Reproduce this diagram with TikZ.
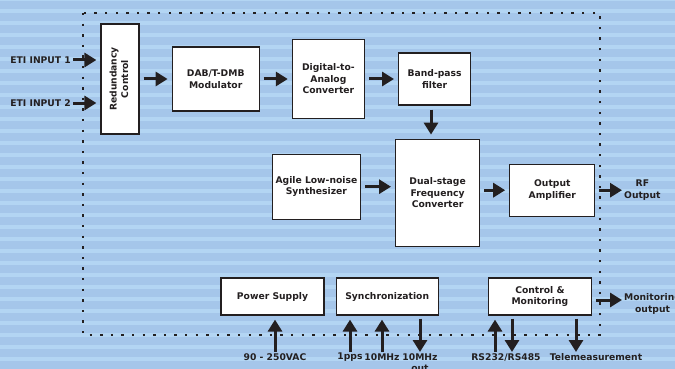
\documentclass[tikz,border=0pt]{standalone}
\usepackage{fontspec}
\setmainfont{DejaVu Sans}
\usepackage{tikz}
\usetikzlibrary{arrows.meta, positioning, calc}

\definecolor{stripedark}{HTML}{A5C6EA}
\definecolor{stripelight}{HTML}{B3D5F3}
\definecolor{ink}{HTML}{231F20}

\begin{document}
\begin{tikzpicture}[
    x=1pt, y=-1pt,
    font=\bfseries\fontsize{9.2}{11.5}\selectfont, text=ink,
    box/.style={rectangle, draw=ink, fill=white, line width=1.2pt, align=center, inner sep=1pt},
    label/.style={align=center, inner sep=1pt},
    arrow/.style={-{Triangle[length=12pt,width=14pt]}, line width=3pt, ink, shorten <=4pt, shorten >=4pt},
    frame/.style={ink, line width=2.4pt, dash pattern=on 2.4pt off 8.2pt},
]

% Background
\useasboundingbox (0,0) rectangle (675,369);
\fill[stripedark] (0,0) rectangle (675,369);
\foreach \k in {-1,...,30}
    \fill[stripelight] (0,8.8+12*\k) rectangle (675,13.3+12*\k);

% Frame
\draw[frame] (83,13) rectangle (600,335);

% Nodes
\node[box, minimum width=38pt, minimum height=110pt] (red) at (120,79) {\rotatebox{90}{\begin{tabular}{@{}c@{}}Redundancy\\Control\end{tabular}}};
\node[box, minimum width=87pt, minimum height=64pt, right=32pt of red] (mod) {DAB/T-DMB\\Modulator};
\node[box, minimum width=72pt, minimum height=79pt, right=32pt of mod] (dac) {Digital-to-\\Analog\\Converter};
\node[box, minimum width=72pt, minimum height=52pt, right=33pt of dac] (bpf) {Band-pass\\filter};
\node[box, minimum width=84pt, minimum height=107pt, below=33pt of bpf, xshift=3pt] (dual) {Dual-stage\\Frequency\\Converter};
\node[box, minimum width=88pt, minimum height=65pt, left=34pt of dual, yshift=6pt] (synth) {Agile Low-noise\\Synthesizer};
\node[box, minimum width=85pt, minimum height=52pt, right=29pt of dual, yshift=2.5pt] (amp) {Output\\Amplifier};

\node[box, minimum width=103pt, minimum height=37pt] (ps) at (272.5,296.5) {Power Supply};
\node[box, minimum width=102pt, minimum height=37pt, right=11pt of ps] (sync) {Synchronization};
\node[box, minimum width=103pt, minimum height=37pt, right=49pt of sync] (ctrl) {Control \&\\Monitoring};

% Inputs and outputs
\node[label, anchor=east] (eti1) at (72,60) {ETI INPUT 1};
\node[label, anchor=east] (eti2) at (72,103) {ETI INPUT 2};
\node[label, anchor=west] (rf) at (623,190) {RF\\Output};
\node[label, anchor=west] (mon) at (623,304) {Monitoring\\output};

\node[label, anchor=north] (ac) at (275,352) {90 - 250VAC};
\node[label, anchor=north] (pps) at (350,352) {1pps};
\node[label, anchor=north] (tenin) at (382,352) {10MHz};
\node[label, anchor=north] (tenout) at (420,352) {10MHz\\out};
\node[label, anchor=north] (rs) at (506,352) {RS232/RS485};
\node[label, anchor=north] (tele) at (596,352) {Telemeasurement};

% Arrows
\draw[arrow, shorten <=1pt] (eti1) -- (eti1 -| red.west);
\draw[arrow, shorten <=1pt] (eti2) -- (eti2 -| red.west);
\draw[arrow] (red.east |- mod) -- (mod);
\draw[arrow] (mod) -- (mod -| dac.west);
\draw[arrow] (dac.east |- bpf) -- (bpf);
\draw[arrow] (bpf.south -| 431,0) -- (dual.north -| 431,0);
\draw[arrow] (synth) -- (synth -| dual.west);
\draw[arrow] (dual.east |- amp) -- (amp);
\draw[arrow, shorten >=1pt] (amp) -- (rf.west |- amp);
\draw[arrow, shorten >=1pt] (ctrl.east |- 0,300) -- (mon.west |- 0,300);

\draw[arrow, shorten <=0pt] (ac) -- (ac |- ps.south);
\draw[arrow, shorten <=0pt] (pps) -- (pps |- sync.south);
\draw[arrow, shorten <=0pt] (tenin) -- (tenin |- sync.south);
\draw[arrow, shorten >=0pt, shorten <=3pt] (tenout |- sync.south) -- (tenout.north);
\draw[arrow, shorten <=0pt] ([xshift=-11pt]rs.north) -- ([xshift=-11pt]rs.north |- ctrl.south);
\draw[arrow, shorten >=0pt, shorten <=3pt] ([xshift=6pt]rs.north |- ctrl.south) -- ([xshift=6pt]rs.north);
\draw[arrow, shorten >=0pt, shorten <=3pt] (576,0 |- ctrl.south) -- (576,0 |- tele.north);

\end{tikzpicture}
\end{document}
